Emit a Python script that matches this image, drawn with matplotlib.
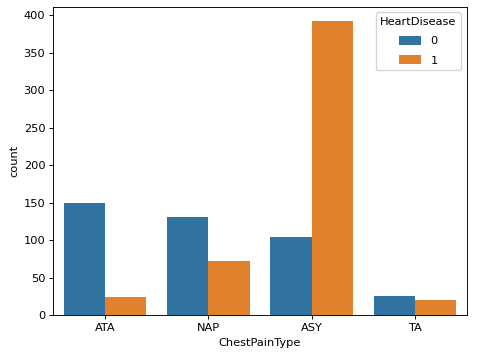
import matplotlib
matplotlib.use("Agg")
import matplotlib.pyplot as plt
import numpy as np

categories = ["ATA", "NAP", "ASY", "TA"]
hue_levels = ["0", "1"]
counts_0 = [149, 131, 104, 26]
counts_1 = [24, 72, 392, 20]
colors = ["#3274a1", "#e1812c"]

s = 0.82
plt.rcParams.update({
    "font.size": 10 * s,
    "axes.linewidth": 0.8 * s,
    "xtick.major.size": 3.5 * s,
    "ytick.major.size": 3.5 * s,
    "xtick.major.width": 0.8 * s,
    "ytick.major.width": 0.8 * s,
    "xtick.major.pad": 3.5 * s,
    "ytick.major.pad": 3.5 * s,
    "axes.labelpad": 4.0 * s,
})

fig = plt.figure(figsize=(4.86, 3.57), dpi=100)
ax = fig.add_axes([0.1097, 0.1176, 0.8506, 0.8636])
x = np.arange(len(categories))
w = 0.4
ax.bar(x - w / 2, counts_0, width=w, color=colors[0], label=hue_levels[0])
ax.bar(x + w / 2, counts_1, width=w, color=colors[1], label=hue_levels[1])
ax.set_xticks(x)
ax.set_xticklabels(categories)
ax.set_xlim(-0.5, len(categories) - 0.5)
ax.set_xlabel("ChestPainType")
ax.set_ylabel("count")
ax.legend(title="HeartDisease", loc="upper right", fontsize=10 * s,
          title_fontsize=10 * s, borderaxespad=0.5, labelspacing=0.8,
          handleheight=0.8, borderpad=0.4)
fig.savefig("out.png", dpi=100)
